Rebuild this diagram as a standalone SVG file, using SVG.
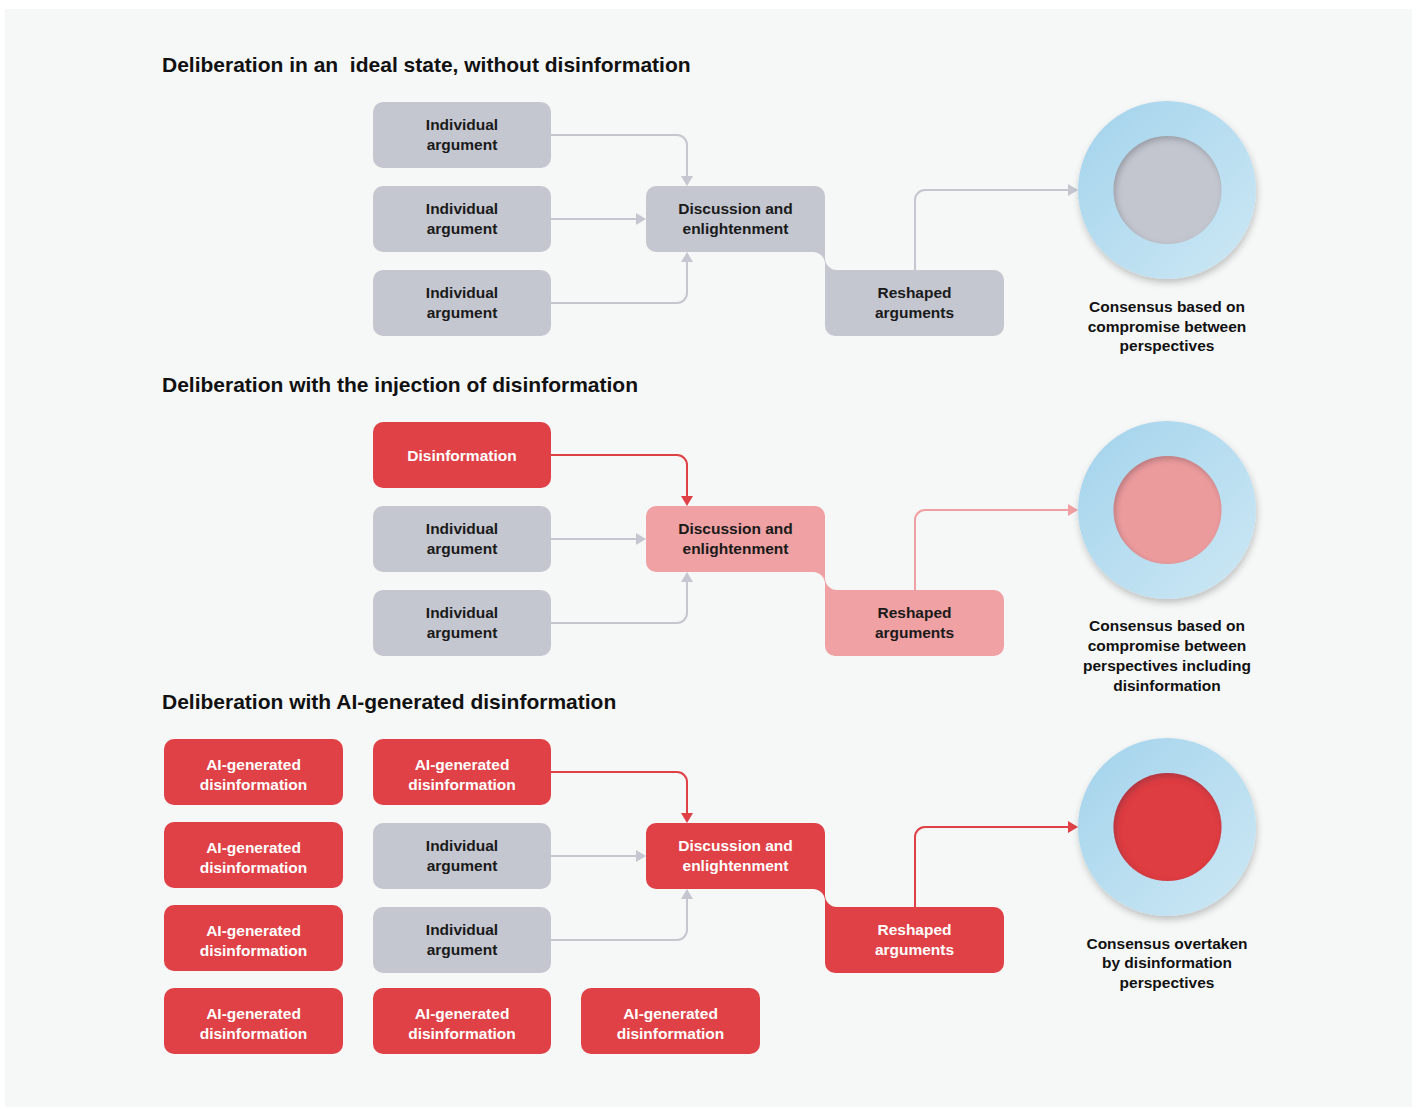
<svg xmlns="http://www.w3.org/2000/svg" width="1416" height="1109" viewBox="0 0 1416 1109">
<defs>
<style>
.title{font-family:"Liberation Sans",Arial,sans-serif;font-weight:bold;font-size:21px;fill:#111;white-space:pre}
.nt{font-family:"Liberation Sans",Arial,sans-serif;font-weight:bold;font-size:15.5px;text-anchor:middle}
.dark{fill:#1a1a1a}
.light{fill:#ffffff}
.lbl{font-family:"Liberation Sans",Arial,sans-serif;font-weight:bold;font-size:15.5px;text-anchor:middle;fill:#111}
.gray{fill:#c4c7d0}
.red{fill:#df4146}
.pink{fill:#efa1a3}
.cg{fill:none;stroke:#c4c7d0;stroke-width:2}
.cr{fill:none;stroke:#df4146;stroke-width:2}
.cp{fill:none;stroke:#f0a0a2;stroke-width:2}
</style>
<marker id="ag" viewBox="0 0 10 12" refX="0" refY="6" markerWidth="10" markerHeight="12" markerUnits="userSpaceOnUse" orient="auto"><path d="M0,0 L10,6 L0,12 Z" fill="#c4c7d0"/></marker>
<marker id="ar" viewBox="0 0 10 12" refX="0" refY="6" markerWidth="10" markerHeight="12" markerUnits="userSpaceOnUse" orient="auto"><path d="M0,0 L10,6 L0,12 Z" fill="#df4146"/></marker>
<marker id="ap" viewBox="0 0 10 12" refX="0" refY="6" markerWidth="10" markerHeight="12" markerUnits="userSpaceOnUse" orient="auto"><path d="M0,0 L10,6 L0,12 Z" fill="#f0a0a2"/></marker>
<linearGradient id="ring" x1="0" y1="0" x2="1" y2="1">
<stop offset="0" stop-color="#a3d3ec"/>
<stop offset="1" stop-color="#cde8f4"/>
</linearGradient>
<filter id="drop" x="-20%" y="-20%" width="140%" height="145%">
<feDropShadow dx="1" dy="4" stdDeviation="3.5" flood-color="#000" flood-opacity="0.22"/>
</filter>
<filter id="inset" x="-20%" y="-20%" width="140%" height="140%">
<feComponentTransfer in="SourceAlpha" result="inv"><feFuncA type="table" tableValues="1 0"/></feComponentTransfer>
<feGaussianBlur in="inv" stdDeviation="3" result="b"/>
<feOffset in="b" dx="2" dy="3" result="ob"/>
<feFlood flood-color="#1e2a40" flood-opacity="0.45"/>
<feComposite in2="ob" operator="in"/>
<feComposite in2="SourceAlpha" operator="in" result="sh"/>
<feMerge><feMergeNode in="SourceGraphic"/><feMergeNode in="sh"/></feMerge>
</filter>
</defs>

<rect x="0" y="0" width="1416" height="1109" fill="#ffffff"/>
<rect x="5" y="9" width="1407" height="1098" fill="#f6f7f7"/>

<text class="title" x="162" y="72">Deliberation in an  ideal state, without disinformation</text>
<text class="title" x="162" y="392">Deliberation with the injection of disinformation</text>
<text class="title" x="162" y="709">Deliberation with AI-generated disinformation</text>

<g id="connectors">
<path class="cg" d="M551,135 H677 A10,10 0 0 1 687,145 V176" marker-end="url(#ag)"/>
<path class="cg" d="M551,219 H636" marker-end="url(#ag)"/>
<path class="cg" d="M551,303 H677 A10,10 0 0 0 687,293 V262" marker-end="url(#ag)"/>
<path class="cg" d="M915,270 V200 A10,10 0 0 1 925,190 H1068" marker-end="url(#ag)"/>

<path class="cr" d="M551,455 H677 A10,10 0 0 1 687,465 V496" marker-end="url(#ar)"/>
<path class="cg" d="M551,539 H636" marker-end="url(#ag)"/>
<path class="cg" d="M551,623 H677 A10,10 0 0 0 687,613 V582" marker-end="url(#ag)"/>
<path class="cp" d="M915,590 V520 A10,10 0 0 1 925,510 H1068" marker-end="url(#ap)"/>

<path class="cr" d="M551,772 H677 A10,10 0 0 1 687,782 V813" marker-end="url(#ar)"/>
<path class="cg" d="M551,856 H636" marker-end="url(#ag)"/>
<path class="cg" d="M551,940 H677 A10,10 0 0 0 687,930 V899" marker-end="url(#ag)"/>
<path class="cr" d="M915,907 V837 A10,10 0 0 1 925,827 H1068" marker-end="url(#ar)"/>
</g>

<!-- Section 1 -->
<g id="s1-arg1"><rect class="gray" x="373" y="102" width="178" height="66" rx="10"/><text class="nt dark" x="462" y="129.5">Individual</text><text class="nt dark" x="462" y="149.5">argument</text></g>
<g id="s1-arg2"><rect class="gray" x="373" y="186" width="178" height="66" rx="10"/><text class="nt dark" x="462" y="213.5">Individual</text><text class="nt dark" x="462" y="233.5">argument</text></g>
<g id="s1-arg3"><rect class="gray" x="373" y="270" width="178" height="66" rx="10"/><text class="nt dark" x="462" y="297.5">Individual</text><text class="nt dark" x="462" y="317.5">argument</text></g>
<g id="s1-discussion"><path class="gray" d="M656,186 H815 A10,10 0 0 1 825,196 V264 A12,12 0 0 0 813,252 H656 A10,10 0 0 1 646,242 V196 A10,10 0 0 1 656,186 Z"/><text class="nt dark" x="735.5" y="213.5">Discussion and</text><text class="nt dark" x="735.5" y="233.5">enlightenment</text></g>
<g id="s1-reshaped"><path class="gray" d="M825,258 A12,12 0 0 0 837,270 H994 A10,10 0 0 1 1004,280 V326 A10,10 0 0 1 994,336 H835 A10,10 0 0 1 825,326 Z"/><text class="nt dark" x="914.5" y="297.5">Reshaped</text><text class="nt dark" x="914.5" y="317.5">arguments</text></g>
<g id="s1-consensus">
<circle cx="1167" cy="190" r="89" fill="url(#ring)" filter="url(#drop)"/>
<circle cx="1167.5" cy="190" r="54" fill="#c3c6cf" filter="url(#inset)"/>
<text class="lbl" x="1167" y="312">Consensus based on</text>
<text class="lbl" x="1167" y="331.5">compromise between</text>
<text class="lbl" x="1167" y="351">perspectives</text>
</g>

<!-- Section 2 -->
<g id="s2-disinfo"><rect class="red" x="373" y="422" width="178" height="66" rx="10"/><text class="nt light" x="462" y="460.5">Disinformation</text></g>
<g id="s2-arg2"><rect class="gray" x="373" y="506" width="178" height="66" rx="10"/><text class="nt dark" x="462" y="533.5">Individual</text><text class="nt dark" x="462" y="553.5">argument</text></g>
<g id="s2-arg3"><rect class="gray" x="373" y="590" width="178" height="66" rx="10"/><text class="nt dark" x="462" y="617.5">Individual</text><text class="nt dark" x="462" y="637.5">argument</text></g>
<g id="s2-discussion"><path class="pink" d="M656,506 H815 A10,10 0 0 1 825,516 V584 A12,12 0 0 0 813,572 H656 A10,10 0 0 1 646,562 V516 A10,10 0 0 1 656,506 Z"/><text class="nt dark" x="735.5" y="533.5">Discussion and</text><text class="nt dark" x="735.5" y="553.5">enlightenment</text></g>
<g id="s2-reshaped"><path class="pink" d="M825,578 A12,12 0 0 0 837,590 H994 A10,10 0 0 1 1004,600 V646 A10,10 0 0 1 994,656 H835 A10,10 0 0 1 825,646 Z"/><text class="nt dark" x="914.5" y="617.5">Reshaped</text><text class="nt dark" x="914.5" y="637.5">arguments</text></g>
<g id="s2-consensus">
<circle cx="1167" cy="510" r="89" fill="url(#ring)" filter="url(#drop)"/>
<circle cx="1167.5" cy="510" r="54" fill="#ec9b9d" filter="url(#inset)"/>
<text class="lbl" x="1167" y="630.5">Consensus based on</text>
<text class="lbl" x="1167" y="650.5">compromise between</text>
<text class="lbl" x="1167" y="670.5">perspectives including</text>
<text class="lbl" x="1167" y="690.5">disinformation</text>
</g>

<!-- Section 3 -->
<g id="s3-ai-l1"><rect class="red" x="164" y="739" width="179" height="66" rx="10"/><text class="nt light" x="253.5" y="769.5">AI-generated</text><text class="nt light" x="253.5" y="789.5">disinformation</text></g>
<g id="s3-ai-l2"><rect class="red" x="164" y="822" width="179" height="66" rx="10"/><text class="nt light" x="253.5" y="852.5">AI-generated</text><text class="nt light" x="253.5" y="872.5">disinformation</text></g>
<g id="s3-ai-l3"><rect class="red" x="164" y="905" width="179" height="66" rx="10"/><text class="nt light" x="253.5" y="935.5">AI-generated</text><text class="nt light" x="253.5" y="955.5">disinformation</text></g>
<g id="s3-ai-l4"><rect class="red" x="164" y="988" width="179" height="66" rx="10"/><text class="nt light" x="253.5" y="1018.5">AI-generated</text><text class="nt light" x="253.5" y="1038.5">disinformation</text></g>
<g id="s3-ai-m1"><rect class="red" x="373" y="739" width="178" height="66" rx="10"/><text class="nt light" x="462" y="769.5">AI-generated</text><text class="nt light" x="462" y="789.5">disinformation</text></g>
<g id="s3-arg2"><rect class="gray" x="373" y="823" width="178" height="66" rx="10"/><text class="nt dark" x="462" y="850.5">Individual</text><text class="nt dark" x="462" y="870.5">argument</text></g>
<g id="s3-arg3"><rect class="gray" x="373" y="907" width="178" height="66" rx="10"/><text class="nt dark" x="462" y="934.5">Individual</text><text class="nt dark" x="462" y="954.5">argument</text></g>
<g id="s3-ai-m4"><rect class="red" x="373" y="988" width="178" height="66" rx="10"/><text class="nt light" x="462" y="1018.5">AI-generated</text><text class="nt light" x="462" y="1038.5">disinformation</text></g>
<g id="s3-ai-r4"><rect class="red" x="581" y="988" width="179" height="66" rx="10"/><text class="nt light" x="670.5" y="1018.5">AI-generated</text><text class="nt light" x="670.5" y="1038.5">disinformation</text></g>
<g id="s3-discussion"><path class="red" d="M656,823 H815 A10,10 0 0 1 825,833 V901 A12,12 0 0 0 813,889 H656 A10,10 0 0 1 646,879 V833 A10,10 0 0 1 656,823 Z"/><text class="nt light" x="735.5" y="850.5">Discussion and</text><text class="nt light" x="735.5" y="870.5">enlightenment</text></g>
<g id="s3-reshaped"><path class="red" d="M825,895 A12,12 0 0 0 837,907 H994 A10,10 0 0 1 1004,917 V963 A10,10 0 0 1 994,973 H835 A10,10 0 0 1 825,963 Z"/><text class="nt light" x="914.5" y="934.5">Reshaped</text><text class="nt light" x="914.5" y="954.5">arguments</text></g>
<g id="s3-consensus">
<circle cx="1167" cy="827" r="89" fill="url(#ring)" filter="url(#drop)"/>
<circle cx="1167.5" cy="827" r="54" fill="#de3d43" filter="url(#inset)"/>
<text class="lbl" x="1167" y="948.5">Consensus overtaken</text>
<text class="lbl" x="1167" y="968">by disinformation</text>
<text class="lbl" x="1167" y="987.5">perspectives</text>
</g>
</svg>
